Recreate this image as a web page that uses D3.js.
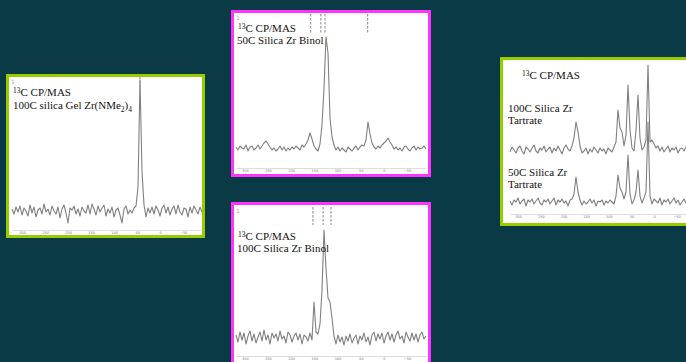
<!DOCTYPE html>
<html>
<head>
<meta charset="utf-8">
<script src="https://cdn.jsdelivr.net/npm/d3@7"></script>
<style>
  html, body { margin: 0; padding: 0; background: #0a3a45; }
  svg { display: block; }
</style>
</head>
<body>
<svg id="chart" width="686" height="362"></svg>
<script>
// ppm tick labels along the bottom of each spectrum
const ppmTicks = [300, 250, 200, 150, 100, 50, 0, -50];

// 100C silica Gel Zr(NMe2)4
const gelNMe2 = [
  2, -3, 4, -1, 5, -4, 3, 0, -5, 6,
  -2, 4, -6, 1, 3, -3, 7, -1, 2, -4,
  5, 0, -3, 4, -7, 2, 6, -2, -12, 3,
  1, 5, -3, 2, -5, 4, 0, -2, 6, -3,
  7, 2, -4, 5, -1, 3, 6, -5, 2, -2,
  4, -6, 1, 3, -4, -12, 2, 5, -3, 1,
  -2, 3, 5, 24, 131, 40, 6, -6, 3, -2,
  4, -3, 5, 1, -5, 3, 6, -2, 4, -4,
  2, 5, -3, 6, -1, -4, 3, 2, -6, 4,
  -2, 5, 1, -3, 4, -1
];
const gelPeaks = [44];

// 50C Silica Zr Binol
const binol50 = [
  1, -2, 2, 0, -1, 3, -3, 1, 2, -2,
  0, 3, -1, 2, 5, 7, 4, 1, -2, 0,
  -3, -1, 2, -2, 1, -3, 0, -2, 1, -1,
  2, 0, -2, 3, 1, 4, 8, 15, 9, 2,
  -1, -3, 4, 23, 60, 111, 95, 30, 11, 3,
  -2, 1, -3, 0, -2, -4, 1, -1, -3, 0,
  2, -2, 1, 3, 2, 8, 26, 14, 5, 1,
  -1, 2, 0, 3, 5, 7, 10, 6, 3, -1,
  1, -2, 0, -3, 1, 2, -1, -3, 0, 2,
  -2, 1, -1, 0, 2, -1
];
const binol50Peaks = [158, 136, 127, 35];

// 100C Silica Zr Binol
const binol100 = [
  3, -4, 6, -2, 5, -6, 2, 7, -3, 4,
  -5, 1, 6, -3, 8, -2, 3, -6, 5, 0,
  4, -3, 7, -1, 2, -5, 6, 3, -4, 2,
  5, -2, 4, -6, 3, 1, -3, 5, -2, 36,
  6, 4, 14, 48, 108, 70, 40, 36, 20, 2,
  -6, 3, -4, 1, -7, 2, -3, 4, -5, 0,
  3, -6, 2, -2, 5, -4, 1, -7, 3, 6,
  -3, 4, -1, 5, -5, 2, 6, -2, 4, -4,
  3, 7, -1, 2, -5, 6, 1, -3, 5, -2,
  4, -4, 3, 6, -1, 2
];
const binol100Peaks = [153, 131, 114];

// 100C Silica Zr Tartrate
const tartrate100 = [
  -2, 3, 0, -3, 2, 4, -1, -4, 3, 1,
  -2, 2, 5, -1, -3, 2, 0, 4, -2, 1,
  3, -3, 2, -1, 4, 0, -4, 2, 5, 1,
  -1, 4, 12, 28, 18, 4, -3, -1, 2, -4,
  1, -2, 3, 0, -3, 2, -1, 1, -4, 2,
  0, -2, 3, 8, 40, 22, 18, 4, 15, 65,
  20, 2, -1, 20, 55, 12, 0, 3, 10, 85,
  8, 10, 6, 2, 4, -1, 3, -2, 1, 4,
  -2, 2, 0, 3, -3, 1, 2, -1, 3, 0,
  -2
];

// 50C Silica Zr Tartrate
const tartrate50 = [
  1, -3, 2, 0, 4, -2, 1, 3, -4, 2,
  0, 3, -2, 1, 4, -1, -3, 2, 0, 3,
  -2, 1, 4, -3, 2, 0, 3, -1, 1, -4,
  2, 3, 8, 25, 10, 2, -3, 1, -2, 0,
  3, -1, 2, -4, 1, 0, 2, -3, 1, -1,
  2, 0, -2, 6, 27, 14, 10, 3, 10, 47,
  8, -2, 2, 10, 32, 6, -1, 4, 10, 80,
  6, -2, 3, 1, -1, 4, -3, 2, 0, 3,
  -2, 1, 4, -1, 2, -3, 0, 3, -1, 2,
  0
];

const svg = d3.select('#chart');
const font = '"Liberation Serif", "Times New Roman", serif';

function frame(x, y, w, h, color) {
  svg.append('rect')
    .attr('x', x).attr('y', y).attr('width', w).attr('height', h)
    .attr('fill', '#ffffff')
    .attr('stroke', color)
    .attr('stroke-width', 3);
}

function cpMasTitle(x, y) {
  const t = svg.append('text')
    .attr('x', x).attr('y', y)
    .attr('font-family', font).attr('font-size', 11).attr('fill', '#111');
  t.append('tspan').attr('font-size', 7.5).attr('dy', -3).text('13');
  t.append('tspan').attr('dy', 3).text('C CP/MAS');
}

function label(x, y, txt) {
  svg.append('text')
    .attr('x', x).attr('y', y)
    .attr('font-family', font).attr('font-size', 11).attr('fill', '#111')
    .text(txt);
}

function makeX(ppmLeft, ppmRight, x0, x1) {
  return d3.scaleLinear().domain([ppmLeft, ppmRight]).range([x0, x1]);
}

function spectrum(values, xScale, baseline) {
  const [pl, pr] = xScale.domain();
  const step = (pl - pr) / (values.length - 1);
  const yScale = d3.scaleLinear().domain([0, 100]).range([baseline, baseline - 100]);
  const line = d3.line()
    .x((d, i) => xScale(pl - i * step))
    .y(d => yScale(d));
  svg.append('path')
    .datum(values)
    .attr('d', line)
    .attr('fill', 'none')
    .attr('stroke', '#808080')
    .attr('stroke-width', 1.1)
    .attr('stroke-linejoin', 'round');
}

function axis(xScale, y) {
  const g = svg.append('g')
    .attr('transform', `translate(0,${y})`)
    .call(d3.axisBottom(xScale).tickValues(ppmTicks).tickSize(0).tickPadding(1.5));
  g.select('.domain').attr('stroke', '#d6d6d6').attr('stroke-width', 0.8);
  g.selectAll('text')
    .attr('font-size', 3.5)
    .attr('font-family', 'DejaVu Sans')
    .attr('fill', '#7a7a7a');
}

function peakMarks(ppms, xScale, y0, y1) {
  svg.append('g')
    .selectAll('line')
    .data(ppms)
    .join('line')
    .attr('x1', d => xScale(d)).attr('x2', d => xScale(d))
    .attr('y1', y0).attr('y2', y1)
    .attr('stroke', '#9a9a9a')
    .attr('stroke-width', 1.2)
    .attr('stroke-dasharray', '2.5,1.5');
}

function cornerMark(x, y) {
  svg.append('text')
    .attr('x', x).attr('y', y)
    .attr('font-family', 'DejaVu Sans').attr('font-size', 6).attr('fill', '#aaa')
    .text('1');
}

// panel 1: 100C silica Gel Zr(NMe2)4
frame(7.5, 75.5, 196, 161, '#99cc00');
const x1 = makeX(322, -91, 12, 202);
axis(x1, 230);
spectrum(gelNMe2, x1, 211);
peakMarks(gelPeaks, x1, 77, 92);
cornerMark(11, 84);
cpMasTitle(13, 96);
const l1 = svg.append('text')
  .attr('x', 13).attr('y', 109)
  .attr('font-family', font).attr('font-size', 11).attr('fill', '#111');
l1.append('tspan').text('100C silica Gel Zr(NMe');
l1.append('tspan').attr('font-size', 7.5).attr('dy', 2.5).text('2');
l1.append('tspan').attr('dy', -2.5).text(')');
l1.append('tspan').attr('font-size', 7.5).attr('dy', 2.5).text('4');

// panel 2: 50C Silica Zr Binol
frame(232.5, 11.5, 197, 164, '#ff33ff');
const x2 = makeX(319, -91, 236, 426);
axis(x2, 168);
spectrum(binol50, x2, 148);
peakMarks(binol50Peaks, x2, 14, 34);
cornerMark(236, 20);
cpMasTitle(238, 32);
label(237, 44, '50C Silica Zr Binol');

// panel 3: 100C Silica Zr Binol
frame(232.5, 203.5, 197, 175, '#ff33ff');
const x3 = makeX(319, -91, 236, 426);
axis(x3, 356);
spectrum(binol100, x3, 338);
peakMarks(binol100Peaks, x3, 207, 225);
cornerMark(236, 213);
cpMasTitle(238, 240);
label(237, 252, '100C Silica Zr Binol');

// panel 4: Zr tartrate, two temperatures
frame(501.5, 58.5, 215, 166, '#99cc00');
const x4 = makeX(318, -79, 510, 690);
axis(x4, 214);
spectrum(tartrate100, x4, 150);
spectrum(tartrate50, x4, 202);
cpMasTitle(522, 79);
label(508, 112, '100C Silica Zr');
label(508, 124, 'Tartrate');
label(508, 176, '50C Silica Zr');
label(508, 188, 'Tartrate');
</script>
</body>
</html>
